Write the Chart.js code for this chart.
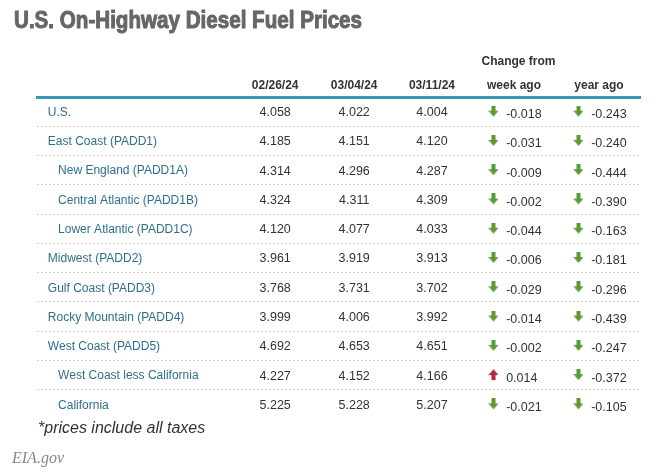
<!DOCTYPE html>
<html>
<head>
<meta charset="utf-8">
<script src="https://cdn.jsdelivr.net/npm/chart.js@4.4.1/dist/chart.umd.min.js"></script>
<style>
  html, body { margin: 0; background: #fff; }
</style>
</head>
<body>
<canvas id="prices" width="656" height="475"></canvas>
<script>
"use strict"

const title = "U.S. On-Highway Diesel Fuel Prices";
const regions = ["U.S.", "East Coast (PADD1)", "New England (PADD1A)", "Central Atlantic (PADD1B)",
  "Lower Atlantic (PADD1C)", "Midwest (PADD2)", "Gulf Coast (PADD3)", "Rocky Mountain (PADD4)",
  "West Coast (PADD5)", "West Coast less California", "California"];
const subRegion = [false, false, true, true, true, false, false, false, false, true, true];
const dates = ["02/26/24", "03/04/24", "03/11/24"];
const price0226 = [4.058, 4.185, 4.314, 4.324, 4.120, 3.961, 3.768, 3.999, 4.692, 4.227, 5.225];
const price0304 = [4.022, 4.151, 4.296, 4.311, 4.077, 3.919, 3.731, 4.006, 4.653, 4.152, 5.228];
const price0311 = [4.004, 4.120, 4.287, 4.309, 4.033, 3.913, 3.702, 3.992, 4.651, 4.166, 5.207];
const weekChange = [-0.018, -0.031, -0.009, -0.002, -0.044, -0.006, -0.029, -0.014, -0.002, 0.014, -0.021];
const yearChange = [-0.243, -0.240, -0.444, -0.390, -0.163, -0.181, -0.296, -0.439, -0.247, -0.372, -0.105];
const footnote = "*prices include all taxes";
const source = "EIA.gov";

//////////    Layout (table width = 1000 units on the x scale)    //////////

const priceCols = [395, 526, 655];
const weekCol = 791, yearCol = 932;
const arrowShift = -34, textShift = -13;
const labelX = 18, subLabelX = 35;

const teal = "#3a97b3";
const labelColor = "#2f6f8d";
const textColor = "#333";

function makeArrow(color, up) {
  const c = document.createElement("canvas");
  c.width = 10;
  c.height = 12;
  const g = c.getContext("2d");
  const pts = [[3, 0], [7, 0], [7, 5], [10, 5], [5, 11], [0, 5], [3, 5]];
  g.fillStyle = color;
  g.beginPath();
  pts.forEach((p, i) => {
    const y = up ? 11 - p[1] : p[1];
    if (i === 0) g.moveTo(p[0], y); else g.lineTo(p[0], y);
  });
  g.closePath();
  g.fill();
  return c;
}

const downArrow = makeArrow("#5b9a2f", false);
const upArrow = makeArrow("#b3223f", true);

function fmt(v) {
  return v.toFixed(3);
}

function priceSet(values, col) {
  return {
    label: "price",
    data: values.map((v, i) => ({ x: col, y: regions[i], v: v, tx: col })),
    pointRadius: 0
  };
}

function changeSet(values, col) {
  return {
    label: "change",
    data: values.map((v, i) => ({ x: col + arrowShift, y: regions[i], v: v, tx: col + textShift })),
    pointStyle: ctx => (ctx.raw && ctx.raw.v > 0) ? upArrow : downArrow,
    pointRadius: 6
  };
}

const tableText = {
  id: "tableText",
  afterDatasetsDraw(chart) {
    const { ctx, scales: { x, y } } = chart;
    ctx.save();

    // title, squeezed to a condensed heavy look
    ctx.fillStyle = "#666";
    ctx.strokeStyle = "#666";
    ctx.lineWidth = 1;
    ctx.font = 'bold 23px "Liberation Sans"';
    ctx.textAlign = "left";
    ctx.textBaseline = "alphabetic";
    const w = ctx.measureText(title).width;
    ctx.save();
    ctx.translate(14, 28);
    ctx.scale(348 / w, 1);
    ctx.fillText(title, 0, 0);
    ctx.strokeText(title, 0, 0);
    ctx.restore();

    // headers
    ctx.fillStyle = textColor;
    ctx.font = 'bold 12px "Liberation Sans"';
    ctx.textAlign = "center";
    dates.forEach((d, i) => ctx.fillText(d, x.getPixelForValue(priceCols[i]), 89));
    ctx.fillText("week ago", x.getPixelForValue(weekCol), 89);
    ctx.fillText("year ago", x.getPixelForValue(yearCol), 89);
    ctx.fillText("Change from", x.getPixelForValue((weekCol + yearCol) / 2 - 63), 65);

    // row labels
    ctx.textAlign = "left";
    ctx.textBaseline = "middle";
    ctx.font = '12px "Liberation Sans"';
    ctx.fillStyle = labelColor;
    regions.forEach((r, i) => {
      ctx.fillText(r, x.getPixelForValue(subRegion[i] ? subLabelX : labelX), y.getPixelForValue(i) + 1);
    });

    // values
    ctx.fillStyle = textColor;
    ctx.font = '12.5px "Liberation Sans"';
    chart.data.datasets.forEach((ds, di) => {
      const meta = chart.getDatasetMeta(di);
      meta.data.forEach((pt, i) => {
        const d = ds.data[i];
        if (ds.label === "price") {
          ctx.textAlign = "center";
          ctx.fillText(fmt(d.v), x.getPixelForValue(d.tx), pt.y + 1);
        } else {
          ctx.textAlign = "left";
          ctx.fillText(fmt(d.v), x.getPixelForValue(d.tx), pt.y + 3);
        }
      });
    });

    // footnotes
    ctx.textAlign = "left";
    ctx.textBaseline = "alphabetic";
    ctx.font = 'italic 16px "Liberation Sans"';
    ctx.fillStyle = textColor;
    ctx.fillText(footnote, 38, 433);
    ctx.font = 'italic 16px "Liberation Serif"';
    ctx.fillStyle = "#888";
    ctx.fillText(source, 12, 463);

    ctx.restore();
  }
};

new Chart(document.getElementById("prices"), {
  type: "scatter",
  data: {
    datasets: [
      priceSet(price0226, priceCols[0]),
      priceSet(price0304, priceCols[1]),
      priceSet(price0311, priceCols[2]),
      changeSet(weekChange, weekCol),
      changeSet(yearChange, yearCol)
    ]
  },
  options: {
    responsive: false,
    animation: false,
    events: [],
    layout: { padding: { top: 97, left: 37, right: 16, bottom: 56 } },
    plugins: { legend: { display: false }, tooltip: { enabled: false } },
    scales: {
      x: {
        type: "linear",
        position: "top",
        min: 0,
        max: 1000,
        ticks: { display: false },
        grid: { display: false, drawTicks: false },
        border: { display: true, color: teal, width: 3 },
        afterFit: s => { s.height = 0; }
      },
      y: {
        type: "category",
        labels: regions,
        offset: true,
        ticks: { display: false },
        grid: {
          offset: true,
          drawTicks: false,
          color: c => (c.index === undefined || c.index === 0) ? "transparent" : "#cfcfcf",
          lineWidth: 1
        },
        border: { display: false, dash: [2, 2] },
        afterFit: s => { s.width = 0; }
      }
    }
  },
  plugins: [tableText]
});
</script>
</body>
</html>
